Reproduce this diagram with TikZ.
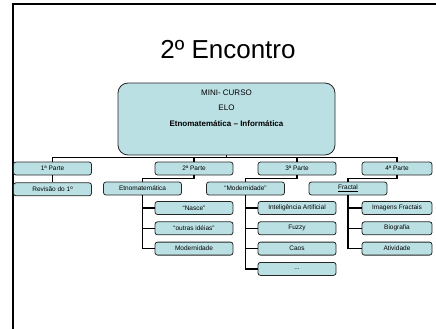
\documentclass[tikz,border=0pt]{standalone}
\usepackage{fontspec}
\setmainfont{Liberation Sans}
\usepackage{tikz}
\usetikzlibrary{positioning}

\definecolor{orgfill}{RGB}{187,224,228}

\begin{document}
\begin{tikzpicture}[x=1pt,y=-1pt,font=\fontsize{6.5}{7}\selectfont]
            \tikzstyle{org node}=[draw=black!85,line width=0.8pt,fill=orgfill,rounded corners=2.5pt,minimum width=78pt,minimum height=13pt,inner sep=0pt]
            \tikzstyle{narrow node}=[org node,minimum width=70pt]
            \tikzstyle{top node}=[org node,rounded corners=10pt,minimum width=217pt,minimum height=72pt,align=center,font=\fontsize{8}{15.5}\selectfont,text depth=22pt]
            \tikzstyle{link}=[line width=1.2pt]
            \useasboundingbox (0,0) rectangle (436,329);
            \draw[line width=2pt] (13,329) -- (13,4) -- (436,4);
            \node(title) at (228,50) {\fontsize{26}{30}\selectfont 2º Encontro};
            \node(root)[top node] at (226.5,119) {MINI- CURSO\\ELO\\\textbf{Etnomatemática – Informática}};
            % partes
            \node(p1)[org node] at (52.5,168.5) {1ª Parte};
            \node(p2)[org node] at (194,168.5) {2ª Parte};
            \node(p3)[org node] at (297,168.5) {3ª Parte};
            \node(p4)[narrow node] at (397,168.5) {4ª Parte};
            \coordinate(bus) at (0,157.5);
            \draw[link] (root.south) -- (root.south |- bus);
            \draw[link] (p1.north) |- (root.south |- bus);
            \draw[link] (p2.north) |- (root.south |- bus);
            \draw[link] (p3.north) |- (root.south |- bus);
            \draw[link] (p4.north) |- (root.south |- bus);
            % segundo nivel
            \node(c1)[org node,below=7pt of p1] {Revisão do 1º};
            \node(c2)[org node] at (142.5,188.5) {Etnomatemática};
            \node(c3)[org node] at (245.5,188.5) {“Modernidade”};
            \node(c4)[org node] at (348,188.5) {\underline{Fractal}};
            \draw[link] (p1.south) -- (c1.north);
            \draw[link] (p2.south) -- ++(0,3) -| (c2.north);
            \draw[link] (p3.south) -- ++(0,3) -| (c3.north);
            \draw[link] (p4.south) -- ++(0,3) -| (c4.north);
            % terceiro nivel
            \node(g21)[org node] at (194,208) {“Nasce”};
            \node(g22)[org node,below=6.5pt of g21] {“outras idéias”};
            \node(g23)[org node,below=6.5pt of g22] {Modernidade};
            \node(g31)[org node] at (297,208) {Inteligência Artificial};
            \node(g32)[org node,below=6.5pt of g31] {Fuzzy};
            \node(g33)[org node,below=6.5pt of g32] {Caos};
            \node(g34)[org node,below=6.5pt of g33] {...};
            \node(g41)[narrow node] at (397,208) {Imagens Fractais};
            \node(g42)[narrow node,below=6.5pt of g41] {Biografia};
            \node(g43)[narrow node,below=6.5pt of g42] {Atividade};
            \draw[link] (c2.south) |- (g21.west);
            \draw[link] (c2.south) |- (g22.west);
            \draw[link] (c2.south) |- (g23.west);
            \draw[link] (c3.south) |- (g31.west);
            \draw[link] (c3.south) |- (g32.west);
            \draw[link] (c3.south) |- (g33.west);
            \draw[link] (c3.south) |- (g34.west);
            \draw[link] (c4.south) |- (g41.west);
            \draw[link] (c4.south) |- (g42.west);
            \draw[link] (c4.south) |- (g43.west);
\end{tikzpicture}
\end{document}
